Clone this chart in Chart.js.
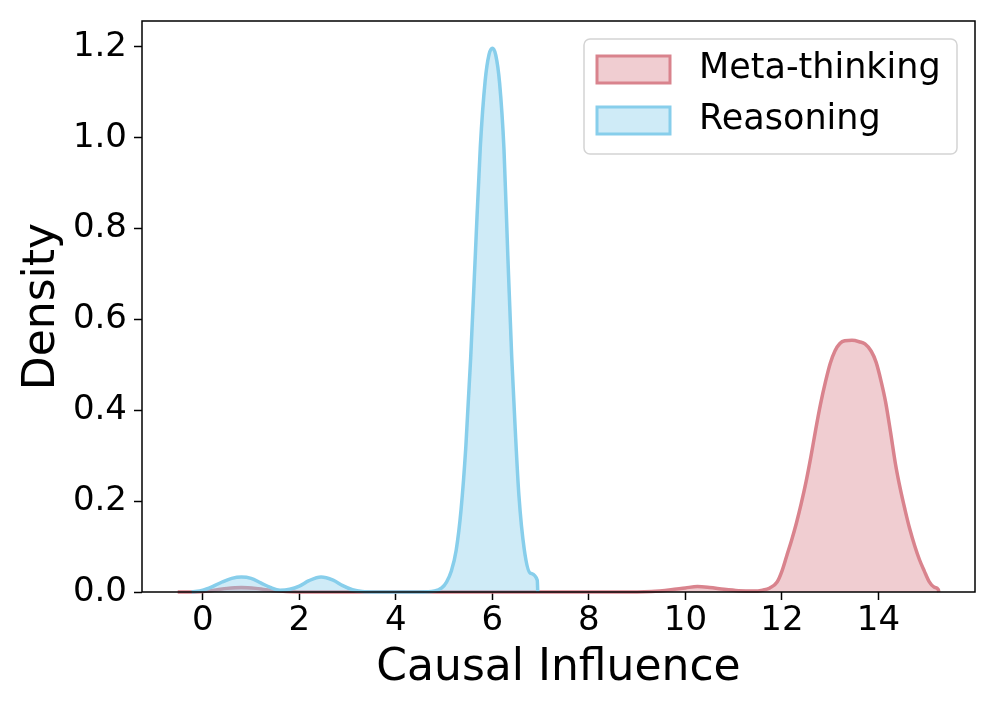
<!DOCTYPE html>
<html>
<head>
<meta charset="utf-8">
<script src="https://cdn.jsdelivr.net/npm/chart.js@4.4.1/dist/chart.umd.min.js"></script>
<style>
  html, body { margin: 0; padding: 0; background: #fff; }
  #wrap { width: 997px; height: 712px; }
</style>
</head>
<body>
<div id="wrap"><canvas id="chart"></canvas></div>
<script>

// Meta-thinking density curve
const metaX = [-0.52, -0.2, 0.1, 0.3, 0.5, 0.8, 1.1, 1.3, 1.6, 2.0, 4.0, 6.0, 8.0, 9.0, 9.3, 9.7, 10.0, 10.25, 10.5, 10.8, 11.1, 11.4,
  11.6, 11.75, 11.9, 12.0, 12.1, 12.2, 12.3, 12.4, 12.5, 12.6, 12.7, 12.8, 12.9, 13.0, 13.1, 13.2, 13.3, 13.45, 13.6, 13.72, 13.85,
  13.95, 14.05, 14.15, 14.25, 14.35, 14.45, 14.55, 14.65, 14.75, 14.85, 14.95, 15.05, 15.15, 15.24, 15.25];
const metaY = [0.0, 0.0, 0.002, 0.005, 0.008, 0.010, 0.008, 0.005, 0.002, 0.0, 0.0, 0.0, 0.0, 0.0, 0.001, 0.005, 0.009, 0.012, 0.010, 0.006, 0.003, 0.002,
  0.004, 0.009, 0.022, 0.046, 0.080, 0.114, 0.152, 0.195, 0.243, 0.298, 0.358, 0.414, 0.462, 0.503, 0.531, 0.547, 0.553, 0.554, 0.551, 0.546, 0.530,
  0.506, 0.466, 0.417, 0.352, 0.283, 0.228, 0.181, 0.138, 0.102, 0.071, 0.046, 0.023, 0.011, 0.005, 0.0];

// Reasoning density curve
const reasonX = [-0.23, 0.0, 0.2, 0.4, 0.6, 0.8, 1.0, 1.2, 1.4, 1.6, 1.8, 2.0, 2.2, 2.45, 2.7, 2.9, 3.1, 3.3, 3.6, 4.0, 4.5, 4.8, 4.95,
  5.05, 5.15, 5.25, 5.35, 5.45, 5.55, 5.65, 5.75, 5.85, 5.93, 6.0, 6.07, 6.15, 6.24, 6.32, 6.4, 6.47, 6.55, 6.66, 6.78, 6.93, 6.94];
const reasonY = [0.0, 0.004, 0.012, 0.022, 0.030, 0.033, 0.030, 0.020, 0.010, 0.004, 0.006, 0.013, 0.025, 0.033, 0.026, 0.014, 0.005, 0.001, 0.0, 0.0, 0.0, 0.002, 0.009,
  0.022, 0.046, 0.092, 0.180, 0.320, 0.515, 0.750, 0.980, 1.125, 1.183, 1.197, 1.182, 1.120, 0.975, 0.740, 0.519, 0.365, 0.212, 0.094, 0.042, 0.026, 0.0];

const xTicks = [0, 2, 4, 6, 8, 10, 12, 14];
const yTicks = [0.0, 0.2, 0.4, 0.6, 0.8, 1.0, 1.2];

const seriesNames = ['Meta-thinking', 'Reasoning'];
const lineColors = ['#d9838d', '#87ceeb'];
const fillColors = ['rgba(217,131,140,0.4)', 'rgba(135,206,235,0.4)'];

const FONT = "'DejaVu Sans', sans-serif";


function toPoints(xs, ys){
  return xs.map((x, i) => { return {x: x, y: ys[i]} });
}


// draws the black frame round the plot area
const framePlugin = {
  id: 'frame',
  afterDatasetsDraw(chart){
    const a = chart.chartArea;
    const ctx = chart.ctx;
    ctx.save();
    ctx.strokeStyle = '#000';
    ctx.lineWidth = 1.5;
    ctx.strokeRect(a.left, a.top, a.right - a.left, a.bottom - a.top);
    ctx.restore();
  }
};

// matplotlib style legend box in the top right corner
const boxLegendPlugin = {
  id: 'boxLegend',
  afterDraw(chart){
    const a = chart.chartArea;
    const ctx = chart.ctx;
    const bx = a.right - 391, by = a.top + 18, bw = 373, bh = 115;
    ctx.save();
    ctx.beginPath();
    ctx.roundRect(bx, by, bw, bh, 6);
    ctx.fillStyle = 'rgba(255,255,255,0.8)';
    ctx.fill();
    ctx.strokeStyle = '#d4d4d4';
    ctx.lineWidth = 1.5;
    ctx.stroke();

    ctx.font = '35px ' + FONT;
    ctx.textBaseline = 'middle';
    seriesNames.forEach((name, i) => {
      const cy = by + 30 + i * 51;
      ctx.fillStyle = fillColors[i];
      ctx.fillRect(bx + 13, cy - 13, 73, 27);
      ctx.strokeStyle = lineColors[i];
      ctx.lineWidth = 3;
      ctx.strokeRect(bx + 13, cy - 13, 73, 27);
      ctx.fillStyle = '#000';
      ctx.fillText(name, bx + 115, cy);
    });
    ctx.restore();
  }
};


document.addEventListener("DOMContentLoaded", function(){

  const datasets = seriesNames.map((name, i) => {
    const pts = i === 0 ? toPoints(metaX, metaY) : toPoints(reasonX, reasonY);
    return {
      label: name,
      data: pts,
      borderColor: lineColors[i],
      backgroundColor: fillColors[i],
      borderWidth: 3.5,
      pointRadius: 0,
      fill: 'origin',
      cubicInterpolationMode: 'monotone',
      clip: 6,
      order: i === 0 ? 1 : 0 // Reasoning drawn on top
    };
  });

  new Chart(document.getElementById('chart'), {
    type: 'line',
    data: { datasets: datasets },
    options: {
      responsive: true,
      maintainAspectRatio: false,
      animation: false,
      layout: { padding: { left: 0, right: 22, top: 21, bottom: 0 } },
      scales: {
        x: {
          type: 'linear',
          min: -1.26,
          max: 16.0,
          afterBuildTicks: scale => { scale.ticks = xTicks.map(v => ({value: v})) },
          afterFit: scale => { scale.height = 120; scale.paddingLeft = 0; scale.paddingRight = 0; },
          grid: { drawOnChartArea: false, drawTicks: true, tickLength: 8, tickColor: '#000', tickWidth: 1.5 },
          border: { display: false },
          ticks: { color: '#000', font: { family: FONT, size: 34 }, padding: 1, maxRotation: 0 },
          title: { display: true, text: 'Causal Influence', color: '#000', font: { family: FONT, size: 44 }, padding: { top: 0, bottom: 17 } }
        },
        y: {
          min: 0,
          max: 1.257,
          afterBuildTicks: scale => { scale.ticks = yTicks.map(v => ({value: v})) },
          afterFit: scale => { scale.width = 142; scale.paddingTop = 0; scale.paddingBottom = 0; },
          grid: { drawOnChartArea: false, drawTicks: true, tickLength: 8, tickColor: '#000', tickWidth: 1.5 },
          border: { display: false },
          ticks: { color: '#000', font: { family: FONT, size: 34 }, padding: 7, callback: v => v.toFixed(1) },
          title: { display: true, text: 'Density', color: '#000', font: { family: FONT, size: 44 }, padding: { top: 16, bottom: 0 } }
        }
      },
      plugins: {
        legend: { display: false },
        tooltip: { enabled: false }
      }
    },
    plugins: [framePlugin, boxLegendPlugin]
  });

});
</script>
</body>
</html>
